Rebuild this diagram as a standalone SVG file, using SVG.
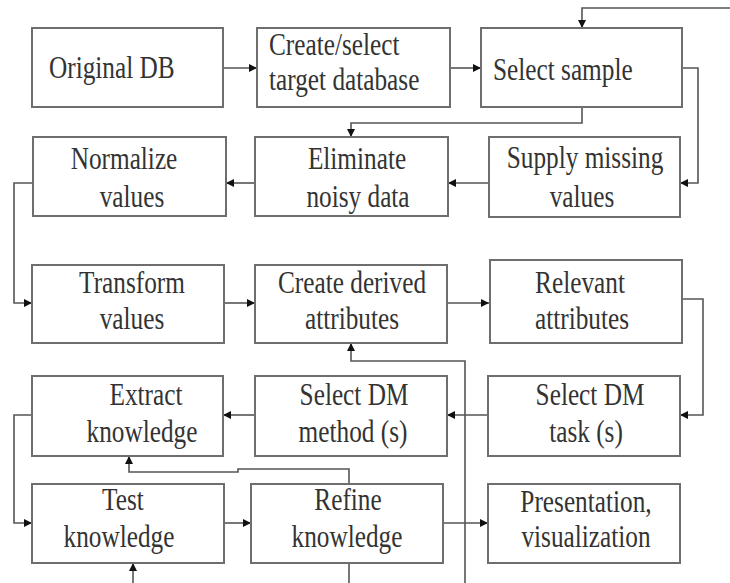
<svg xmlns="http://www.w3.org/2000/svg" width="730" height="583" viewBox="0 0 730 583">
<style>
.box{fill:#fff;stroke:#6e6e6e;stroke-width:2}
.ln{fill:none;stroke:#555;stroke-width:1.6}
.t{font-family:"Liberation Serif","Times New Roman",serif;font-size:32px;fill:#333;text-anchor:middle}
.ts{font-family:"Liberation Serif","Times New Roman",serif;font-size:32px;fill:#333;text-anchor:start}
</style>
<defs>
<marker id="ah" viewBox="0 0 10 10" refX="10" refY="5" markerWidth="9" markerHeight="8" markerUnits="userSpaceOnUse" orient="auto">
<path d="M0,0 L10,5 L0,10 z" fill="#111"/>
</marker>
</defs>
<rect width="730" height="583" fill="#fff"/>
<g id="connectors">
<path class="ln" d="M223,68 H257" marker-end="url(#ah)"/>
<path class="ln" d="M450,68 H481" marker-end="url(#ah)"/>
<path class="ln" d="M730,8 H582 V28" marker-end="url(#ah)"/>
<path class="ln" d="M682,68 H698 V183 H680" marker-end="url(#ah)"/>
<path class="ln" d="M582,107 V123 H351 V137" marker-end="url(#ah)"/>
<path class="ln" d="M489,183 H448" marker-end="url(#ah)"/>
<path class="ln" d="M255,183 H226" marker-end="url(#ah)"/>
<path class="ln" d="M33,183 H14 V303 H32" marker-end="url(#ah)"/>
<path class="ln" d="M224,303 H255" marker-end="url(#ah)"/>
<path class="ln" d="M447,303 H489" marker-end="url(#ah)"/>
<path class="ln" d="M682,299 H703 V415 H680" marker-end="url(#ah)"/>
<path class="ln" d="M465,583 V361 H351 V343" marker-end="url(#ah)"/>
<path class="ln" d="M488,415 H447" marker-end="url(#ah)"/>
<path class="ln" d="M255,415 H223" marker-end="url(#ah)"/>
<path class="ln" d="M32,415 H14 V523 H32" marker-end="url(#ah)"/>
<path class="ln" d="M224,523 H251" marker-end="url(#ah)"/>
<path class="ln" d="M443,523 H488" marker-end="url(#ah)"/>
<path class="ln" d="M349,583 V469 H238 V472 H129 V456" marker-end="url(#ah)"/>
<path class="ln" d="M133,583 V563" marker-end="url(#ah)"/>
</g>
<g id="original-db">
<rect class="box" x="32" y="28" width="191" height="79"/>
<text class="ts" transform="translate(49,78) scale(0.79,1)">Original DB</text>
</g>
<g id="create-select">
<rect class="box" x="257" y="28" width="193" height="79"/>
<text class="ts" transform="translate(269,55) scale(0.79,1)">Create/select</text>
<text class="ts" transform="translate(269,90) scale(0.79,1)">target database</text>
</g>
<g id="select-sample">
<rect class="box" x="481" y="28" width="201" height="79"/>
<text class="ts" transform="translate(493,80) scale(0.79,1)">Select sample</text>
</g>
<g id="normalize">
<rect class="box" x="33" y="137" width="193" height="79"/>
<text class="t" transform="translate(124,169) scale(0.79,1)">Normalize</text>
<text class="t" transform="translate(132,207) scale(0.79,1)">values</text>
</g>
<g id="eliminate">
<rect class="box" x="255" y="137" width="193" height="79"/>
<text class="t" transform="translate(357,169) scale(0.79,1)">Eliminate</text>
<text class="t" transform="translate(358,207) scale(0.79,1)">noisy data</text>
</g>
<g id="supply">
<rect class="box" x="489" y="137" width="191" height="80"/>
<text class="t" transform="translate(585,168) scale(0.79,1)">Supply missing</text>
<text class="t" transform="translate(582,207) scale(0.79,1)">values</text>
</g>
<g id="transform">
<rect class="box" x="32" y="265" width="192" height="78"/>
<text class="t" transform="translate(132,293) scale(0.79,1)">Transform</text>
<text class="t" transform="translate(132,329) scale(0.79,1)">values</text>
</g>
<g id="create-derived">
<rect class="box" x="255" y="265" width="192" height="78"/>
<text class="t" transform="translate(352,293) scale(0.79,1)">Create derived</text>
<text class="t" transform="translate(352,329) scale(0.79,1)">attributes</text>
</g>
<g id="relevant">
<rect class="box" x="490" y="260" width="192" height="83"/>
<text class="t" transform="translate(580,293) scale(0.79,1)">Relevant</text>
<text class="t" transform="translate(582,329) scale(0.79,1)">attributes</text>
</g>
<g id="extract">
<rect class="box" x="32" y="376" width="191" height="80"/>
<text class="t" transform="translate(146,405) scale(0.79,1)">Extract</text>
<text class="t" transform="translate(142,442) scale(0.79,1)">knowledge</text>
</g>
<g id="select-dm-method">
<rect class="box" x="255" y="376" width="192" height="80"/>
<text class="t" transform="translate(354,405) scale(0.79,1)">Select DM</text>
<text class="t" transform="translate(353,442) scale(0.79,1)">method (s)</text>
</g>
<g id="select-dm-task">
<rect class="box" x="488" y="376" width="192" height="80"/>
<text class="t" transform="translate(590,405) scale(0.79,1)">Select DM</text>
<text class="t" transform="translate(586,442) scale(0.79,1)">task (s)</text>
</g>
<g id="test">
<rect class="box" x="32" y="484" width="192" height="79"/>
<text class="t" transform="translate(123,510) scale(0.79,1)">Test</text>
<text class="t" transform="translate(119,547) scale(0.79,1)">knowledge</text>
</g>
<g id="refine">
<rect class="box" x="251" y="484" width="192" height="79"/>
<text class="t" transform="translate(348,510) scale(0.79,1)">Refine</text>
<text class="t" transform="translate(347,547) scale(0.79,1)">knowledge</text>
</g>
<g id="presentation">
<rect class="box" x="488" y="484" width="192" height="79"/>
<text class="t" transform="translate(586,512) scale(0.79,1)">Presentation,</text>
<text class="t" transform="translate(586,547) scale(0.79,1)">visualization</text>
</g>
</svg>
